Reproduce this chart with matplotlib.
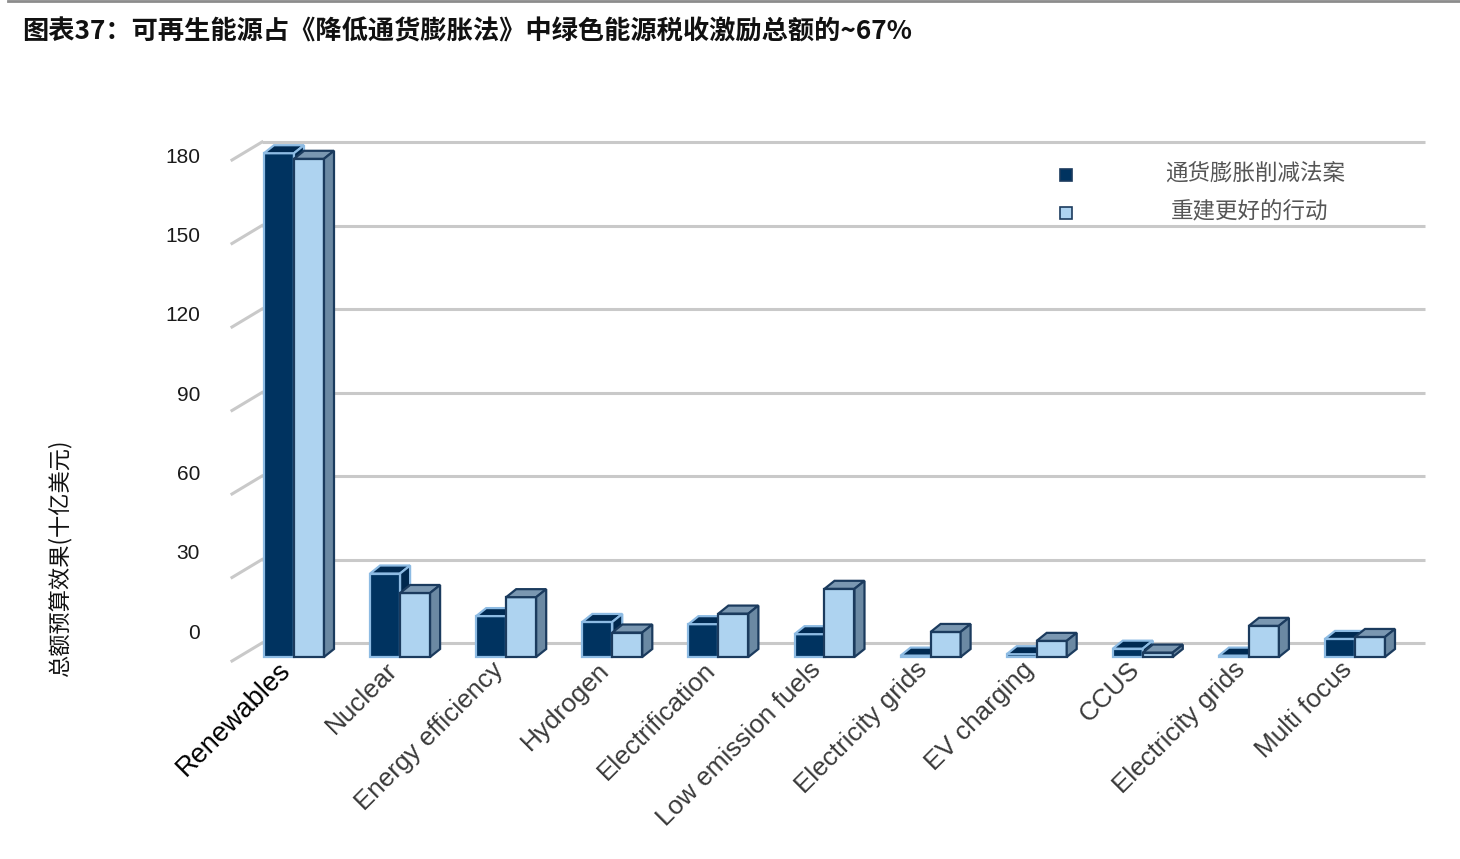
import matplotlib
matplotlib.use("Agg")
import matplotlib.pyplot as plt
from matplotlib.patches import Polygon, Rectangle
from matplotlib.lines import Line2D

plt.rcParams['font.family'] = ['Liberation Sans', 'Noto Sans CJK SC', 'DejaVu Sans']

# ---------------- data ----------------
categories = ["Renewables", "Nuclear", "Energy efficiency", "Hydrogen", "Electrification",
              "Low emission fuels", "Electricity grids", "EV charging", "CCUS",
              "Electricity grids", "Multi focus"]
ira = [181, 30, 14.7, 12.6, 11.8, 8.2, 0.5, 1.0, 3.0, 0.5, 6.5]      # 通货膨胀削减法案
bbb = [179, 23, 21.5, 8.8, 15.6, 24.5, 9.0, 5.8, 1.6, 11.2, 7.2]     # 重建更好的行动
series_names = ["通货膨胀削减法案", "重建更好的行动"]
yticks = [0, 30, 60, 90, 120, 150, 180]
title = "图表37：可再生能源占《降低通货膨胀法》中绿色能源税收激励总额的~67%"
ylabel = "总额预算效果(十亿美元)"

# ---------------- layout (pixels) ----------------
W, H = 1460, 859
fig = plt.figure(figsize=(W / 100, H / 100), dpi=100)

PX_PER_X = 106.1      # pixels per category
X0_PX = 294           # pixel of first group centre
Y0_PX = 657           # pixel of value 0 on the bar plane
PX_PER_Y = 2.7833     # pixels per billion
xlim = (-0.65, 10.72)
ylim = (-3, 190)
left_px = X0_PX + xlim[0] * PX_PER_X
right_px = X0_PX + xlim[1] * PX_PER_X
bot_px = Y0_PX - ylim[0] * PX_PER_Y
top_px = Y0_PX - ylim[1] * PX_PER_Y
ax = fig.add_axes([left_px / W, 1 - bot_px / H, (right_px - left_px) / W, (bot_px - top_px) / H])
ax.set_xlim(*xlim)
ax.set_ylim(*ylim)
ax.axis('off')

# depth offsets in data units
bar_dx = 10 / PX_PER_X
bar_dy = 8 / PX_PER_Y
wall_dy = 14 / PX_PER_Y               # back wall shift relative to bar plane
wall_x0 = (262 - X0_PX) / PX_PER_X
wall_x1 = (1425 - X0_PX) / PX_PER_X
front_x = (232 - X0_PX) / PX_PER_X
front_drop = 18 / PX_PER_Y

grid_c = '#c9c9c9'
for v in yticks:
    yb = v + wall_dy
    ax.plot([wall_x0, wall_x1], [yb, yb], color=grid_c, lw=2.2, solid_capstyle='butt', zorder=1)
    ax.plot([front_x, wall_x0], [yb - front_drop, yb], color=grid_c, lw=2.2,
            zorder=1, clip_on=False)
    ax.text((200 - X0_PX) / PX_PER_X, 8.62 + 0.95 * v, str(v), ha='right', va='center',
            fontsize=15, color='#1a1a1a', clip_on=False)

# ---------------- bars ----------------
w = 30 / PX_PER_X
styles = [
    dict(front='#003360', top='#002a52', side='#00284e', edge='#8dbbe3'),
    dict(front='#aed3f0', top='#7a97b1', side='#6b89a3', edge='#1b3b5e'),
]


def draw_bar(x0, h, st, z):
    x1 = x0 + w
    ax.add_patch(Rectangle((x0, 0), w, h, facecolor=st['front'], edgecolor=st['edge'],
                           lw=1.6, zorder=z, joinstyle='miter'))
    ax.add_patch(Polygon([(x0, h), (x1, h), (x1 + bar_dx, h + bar_dy), (x0 + bar_dx, h + bar_dy)],
                         closed=True, facecolor=st['top'], edgecolor=st['edge'], lw=1.6, zorder=z))
    ax.add_patch(Polygon([(x1, 0), (x1 + bar_dx, bar_dy), (x1 + bar_dx, h + bar_dy), (x1, h)],
                         closed=True, facecolor=st['side'], edgecolor=st['edge'], lw=1.6, zorder=z))


for i, (a, b) in enumerate(zip(ira, bbb)):
    draw_bar(i - w, a, styles[0], 3 + 2 * i)
    draw_bar(i, b, styles[1], 4 + 2 * i)

# ---------------- category labels ----------------
for i, name in enumerate(categories):
    first = (i == 0)
    ax.text(i - 7 / PX_PER_X, -9 / PX_PER_Y, name, rotation=45, rotation_mode='anchor',
            ha='right', va='center', fontsize=19.5 if first else 18.8,
            color='#000000' if first else '#3a3a3a', clip_on=False)

# ---------------- legend ----------------
leg_y = [175, 213]
leg_tx = [1255, 1250]
for k in range(2):
    st = styles[k]
    fig.add_artist(Rectangle(((1066 - 6) / W, 1 - (leg_y[k] + 6) / H), 12 / W, 12 / H,
                             facecolor=st['front'], edgecolor='#1b3b5e', lw=1.2,
                             transform=fig.transFigure))
    fig.text(leg_tx[k] / W, 1 - (leg_y[k] - 2) / H, series_names[k], ha='center', va='center',
             fontsize=16.2, color='#555555', family=['Noto Sans CJK SC'], fontweight='light')

# ---------------- title / axis label ----------------
fig.add_artist(Line2D([8 / W, 1], [1 - 1 / H, 1 - 1 / H], color='#8c8c8c', lw=2,
                      transform=fig.transFigure))
fig.text(22 / W, 1 - 32 / H, title, ha='left', va='center', fontsize=18.9,
         fontweight='bold', color='#111111', family=['Noto Sans CJK SC', 'DejaVu Sans'])
fig.text(60 / W, 1 - 558 / H, ylabel, rotation=90, ha='center', va='center', fontsize=16,
         color='#111111', fontweight='medium', family=['Noto Sans CJK SC', 'DejaVu Sans'])

fig.savefig('out.png', dpi=100)
